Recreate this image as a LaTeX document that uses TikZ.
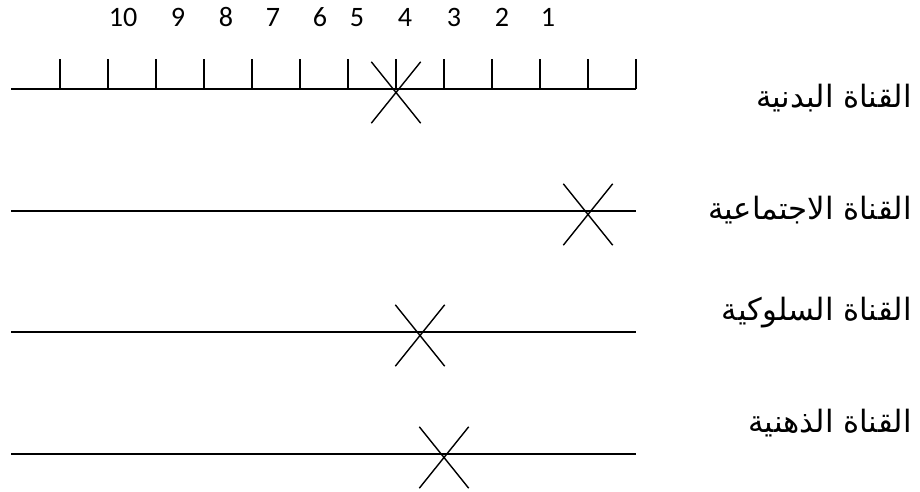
\documentclass[tikz,border=0pt]{standalone}
\usepackage{fontspec}
\setmainfont{Carlito}
\newfontfamily\arabicfont[Script=Arabic]{DejaVu Sans}
\TeXXeTstate=1
\usetikzlibrary{shapes.misc}

\begin{document}
\begin{tikzpicture}[x=0.02cm,y=-0.02cm,
    axis/.style={line width=1.15pt},
    tick/.style={line width=1.15pt},
    crossmark/.style={cross out,draw,line width=0.8pt,inner sep=0pt,
                      minimum width=0.96cm,minimum height=1.2cm},
    channel/.style={anchor=east,inner sep=0pt,font=\arabicfont\fontsize{17.5}{20}\selectfont}]
  \useasboundingbox (0,0) rectangle (920,492);
  %% scale 1: ticks and numbers
  \coordinate (l1) at (11,89);
  \coordinate (r1) at (636,89);
  \draw[axis] (l1) -- (r1);
  \foreach \k in {0,...,12}
    \draw[tick] (60+48*\k,89) -- (60+48*\k,59);
  \foreach \x/\n in {123/10,178/9,226/8,273/7,320/6,357/5,405/4,454/3,502/2,548/1}
    \node[anchor=base,inner sep=0pt,font=\fontsize{16}{18}\selectfont] (n\n) at (\x,27) {\n};
  \node[crossmark] (x1) at (396,92.5) {};
  \node[channel] (c1) at (912,98) {\beginR القناة البدنية\endR};
  %% scale 2
  \coordinate (l2) at (11,211);
  \coordinate (r2) at (636,211);
  \draw[axis] (l2) -- (r2);
  \node[crossmark] (x2) at (588,214.5) {};
  \node[channel] (c2) at (912,210) {\beginR القناة الاجتماعية\endR};
  %% scale 3
  \coordinate (l3) at (11,332);
  \coordinate (r3) at (636,332);
  \draw[axis] (l3) -- (r3);
  \node[crossmark] (x3) at (420,335.5) {};
  \node[channel] (c3) at (912,313) {\beginR القناة السلوكية\endR};
  %% scale 4
  \coordinate (l4) at (11,454);
  \coordinate (r4) at (636,454);
  \draw[axis] (l4) -- (r4);
  \node[crossmark] (x4) at (444,457.5) {};
  \node[channel] (c4) at (912,423) {\beginR القناة الذهنية\endR};
\end{tikzpicture}
\end{document}
